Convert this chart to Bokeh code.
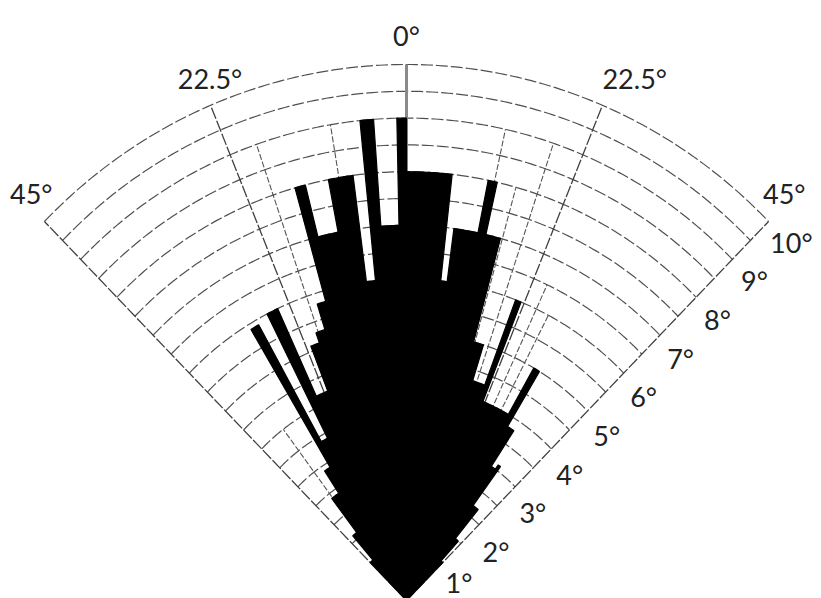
import numpy as np
from bokeh.plotting import figure
from bokeh.models import Range1d
from bokeh.embed import file_html
from bokeh.resources import INLINE
from bokeh.core.properties import value

# ---- data (angle from vertical, degrees; length in degrees) ----
bar_start = [-45.0, -41.0, -37.5, -33.5, -31.0, -29.3, -27.0, -24.8, -21.5, -19.5,
             -17.5, -15.8, -14.3, -11.0, -7.5, -5.8, -4.1, -1.2,
             0.0, 6.4, 7.6, 11.5, 12.8, 15.2, 17.5, 20.8, 21.9, 29.8,
             31.3, 33.5, 35.3, 36.3, 39.5, 42.5]
bar_end = [-41.0, -37.5, -33.5, -31.0, -29.3, -27.0, -24.8, -21.5, -19.5, -17.5,
           -15.8, -14.3, -11.0, -7.5, -5.8, -4.1, -1.2, 0.0,
           6.4, 7.6, 11.5, 12.8, 15.2, 17.5, 20.8, 21.9, 29.8, 31.3,
           33.5, 35.3, 36.3, 39.5, 42.5, 45.0]
bar_length = [1.0, 1.6, 2.4, 2.9, 5.9, 3.4, 6.0, 4.2, 5.1, 5.3,
              5.8, 8.0, 7.0, 8.0, 6.0, 9.0, 7.0, 9.0,
              8.0, 6.0, 7.0, 8.0, 7.0, 5.0, 4.3, 6.0, 4.0, 5.0,
              3.8, 3.0, 3.1, 2.2, 1.5, 1.0]

ring_radii = [0.5, 1.0, 1.5, 2.0, 2.5, 3.0, 3.5, 4.0, 4.5, 5.0,
              5.5, 6.0, 6.5, 7.0, 7.5, 8.0, 8.5, 9.0, 9.5, 10.0]
radial_tick_values = [1, 2, 3, 4, 5, 6, 7, 8, 9, 10]
radial_tick_labels = ["1°", "2°", "3°", "4°", "5°", "6°", "7°", "8°", "9°", "10°"]
angle_tick_values = [-45.0, -22.5, 0.0, 22.5, 45.0]
angle_tick_labels = ["45°", "22.5°", "0°", "22.5°", "45°"]
cell_line_angles = [-37.0, -19.0, -9.5, 12.4, 15.5, 18.6, 25.0, 27.5]
cell_line_lengths = [4.0, 9.0, 9.0, 9.0, 8.0, 9.0, 6.5, 6.0]

# ---- layout ----
R_MAX = 10.0
SPAN = 45.0
W, H = 821, 598
CX, CY = 406.0, 600.0      # pole position in pixels
SX, SY = 51.2, 53.6        # pixels per unit
angle_label_dx = [0.0, 0.2, 0.0, 0.42, 0.05]   # horizontal nudges of the angle labels


def polar(r, deg):
    t = np.radians(deg)
    return r * np.sin(t), r * np.cos(t)


p = figure(width=W, height=H,
           x_range=Range1d(-CX / SX, (W - CX) / SX),
           y_range=Range1d((CY - H) / SY, CY / SY),
           output_backend="svg", toolbar_location=None, min_border=0)
p.axis.visible = False
p.grid.visible = False
p.outline_line_color = None
p.background_fill_color = "white"
p.border_fill_color = "white"

# rings
th = np.linspace(-SPAN, SPAN, 181)
rx, ry = [], []
for r in ring_radii:
    x, y = polar(r, th)
    rx.append(list(x)); ry.append(list(y))
p.multi_line(rx, ry, line_color="#505050", line_width=1.2, line_dash="12 3")

# outer edges (+-45) and 22.5 spokes
sx, sy = [], []
for a in angle_tick_values:
    if a == 0.0:
        continue
    x, y = polar(np.array([0.0, R_MAX]), a)
    sx.append(list(x)); sy.append(list(y))
p.multi_line(sx, sy, line_color="#404040", line_width=1.3, line_dash="12 2")

# cell (bin) lines
cx, cy = [], []
for a, L in zip(cell_line_angles, cell_line_lengths):
    x, y = polar(np.array([0.0, L]), a)
    cx.append(list(x)); cy.append(list(y))
p.multi_line(cx, cy, line_color="#555555", line_width=1.1, line_dash="6 2")

# 0 degree spoke
x0, y0 = polar(np.array([0.0, R_MAX]), 0.0)
p.line(x0, y0, line_color="#8a8a8a", line_width=3)

# bars
bx, by = [], []
for a0, a1, L in zip(bar_start, bar_end, bar_length):
    t = np.linspace(a0, a1, max(4, int(abs(a1 - a0) * 3)))
    x, y = polar(L, t)
    bx.append([0.0] + list(x)); by.append([0.0] + list(y))
p.patches(bx, by, fill_color="black", line_color="black", line_width=1.2)

# radial labels along the right edge
rr = np.array(radial_tick_values) * 1.02 - 0.16
off = 0.59
c45 = np.cos(np.radians(45.0))
lx = rr * c45 + off * c45
ly = np.maximum(rr * c45 - off * c45, (CY - H + 16) / SY)
p.text(lx, ly, text=radial_tick_labels, text_align="center", text_baseline="middle",
       text_font=value("Lato"), text_font_size="27px", text_color="#222222")

# angle labels
lab_angles = np.clip(np.array(angle_tick_values), -44.0, 44.0)
ax, ay = polar(10.55, lab_angles)
ax = ax + np.array(angle_label_dx)
p.text(ax, ay, text=angle_tick_labels, text_align="center", text_baseline="middle",
       text_font=value("Lato"), text_font_size="27px", text_color="#222222")

open("out.html", "w").write(file_html(p, INLINE))
